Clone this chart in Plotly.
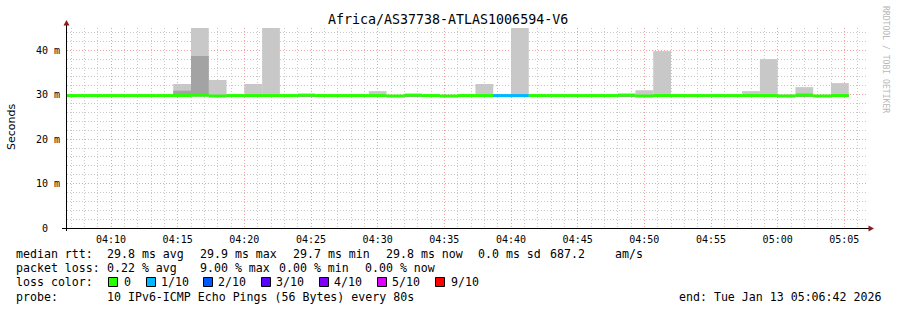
import plotly.graph_objects as go
import pandas as pd

# ---------------- data ----------------
title_text = "Africa/AS37738-ATLAS1006594-V6"
series_start = "2026-01-13 04:06:40"
step_seconds = 80
window = ["2026-01-13 04:06:42", "2026-01-13 05:06:42"]

# median rtt per 80 s step (ms)
median_ms = [29.8, 29.8, 29.8, 29.8, 29.8, 29.8, 29.8, 29.9, 29.7, 29.8,
             29.8, 29.8, 29.8, 29.9, 29.8, 29.8, 29.8, 29.8, 29.7, 29.9,
             29.8, 29.7, 29.8, 29.8, 29.8, 29.8, 29.8, 29.8, 29.8, 29.8,
             29.8, 29.9, 29.7, 29.8, 29.8, 29.8, 29.8, 29.8, 29.8, 29.8,
             29.7, 29.9, 29.7, 29.8]
# smoke: lowest ping, upper inner band, highest ping (ms)
smoke_min = [29.6] * 44
smoke_inner = [29.8, 29.8, 29.8, 29.8, 29.8, 29.8, 30.9, 38.7, 29.7, 29.8,
               29.8, 29.8, 29.8, 29.9, 29.8, 29.8, 29.8, 29.8, 29.7, 29.9,
               29.8, 29.7, 29.8, 29.8, 29.8, 29.8, 29.8, 29.8, 29.8, 29.8,
               29.8, 29.9, 29.7, 29.8, 29.8, 29.8, 29.8, 29.8, 29.8, 29.8,
               29.7, 29.9, 29.7, 29.8]
smoke_max = [29.9, 30.1, 29.9, 29.9, 29.9, 29.9, 32.4, 47.0, 33.3, 29.9,
             32.4, 47.0, 29.9, 30.0, 29.9, 29.9, 29.9, 30.8, 29.9, 29.9,
             29.9, 29.9, 30.1, 32.4, 29.9, 47.0, 29.9, 29.9, 29.9, 29.9,
             29.9, 30.2, 31.0, 39.8, 29.9, 29.9, 29.9, 29.9, 30.8, 38.0,
             30.0, 31.7, 29.9, 32.6]
# lost pings out of 10 per step
loss_count = [0, 0, 0, 0, 0, 0, 0, 0, 0, 0,
              0, 0, 0, 0, 0, 0, 0, 0, 0, 0,
              0, 0, 0, 0, 1, 1, 0, 0, 0, 0,
              0, 0, 0, 0, 0, 0, 0, 0, 0, 0,
              0, 0, 0, 0]

loss_levels = ["0", "1/10", "2/10", "3/10", "4/10", "5/10", "9/10"]
loss_colors = ["#26ff00", "#00b8ff", "#0059ff", "#5e00ff", "#7e00ff", "#dd00ff", "#ff0000"]
loss_color_by_count = {0: "#26ff00", 1: "#00b8ff", 2: "#0059ff", 3: "#5e00ff",
                       4: "#7e00ff", 5: "#dd00ff", 9: "#ff0000"}

y_tick_vals = [0, 10, 20, 30, 40]
y_tick_text = ["0\u00a0\u00a0", "10 m", "20 m", "30 m", "40 m"]

stats_rtt = ["median rtt:", "29.8 ms avg", "29.9 ms max", "29.7 ms min", "29.8 ms now",
             "0.0 ms sd", "687.2", "am/s"]
stats_loss = ["packet loss:", "0.22 % avg", "9.00 % max", "0.00 % min", "0.00 % now"]
probe_text = ["probe:", "10 IPv6-ICMP Echo Pings (56 Bytes) every 80s"]
end_text = "end: Tue Jan 13 05:06:42 2026"

# ---------------- layout geometry ----------------
W, H = 897, 310
ML, MR, MT, MB = 67, 30, 28, 82
PW = W - ML - MR
PH = H - MT - MB
MONO = "DejaVu Sans Mono"


def px(x):
    return (x - ML) / PW


def py(y):
    return (H - MB - y) / PH


n = len(median_ms)
starts = pd.date_range(series_start, periods=n, freq=f"{step_seconds}s")
centers = starts + pd.Timedelta(seconds=step_seconds / 2)
bw = step_seconds * 1000
line_h = 0.675

fig = go.Figure()
fig.add_bar(x=centers, base=smoke_min, y=[b - a for a, b in zip(smoke_min, smoke_max)],
            width=bw, marker=dict(color="#c8c8c8", line=dict(width=0)), hoverinfo="skip")
fig.add_bar(x=centers, base=smoke_min, y=[b - a for a, b in zip(smoke_min, smoke_inner)],
            width=bw, marker=dict(color="#a3a3a3", line=dict(width=0)), hoverinfo="skip")
fig.add_bar(x=centers, base=[m - line_h / 2 for m in median_ms], y=[line_h] * n,
            width=bw, marker=dict(color=[loss_color_by_count[c] for c in loss_count],
                                  line=dict(width=0)), hoverinfo="skip")

grid_minor = "#c9c9c9"
grid_major = "#f0a0a0"
dots = "1px,2px"

fig.update_layout(
    width=W, height=H, margin=dict(l=ML, r=MR, t=MT, b=MB),
    paper_bgcolor="white", plot_bgcolor="white",
    barmode="overlay", showlegend=False,
    font=dict(family=MONO, color="black"),
    xaxis=dict(type="date", range=window, tick0="2026-01-13 04:10:00", dtick=300000,
               tickformat="%H:%M", showgrid=True, gridcolor=grid_major, gridwidth=1,
               griddash=dots, zeroline=False, showline=False, ticks="",
               tickfont=dict(family=MONO, size=10, color="black"), ticklabelstandoff=4,
               minor=dict(tick0="2026-01-13 04:10:00", dtick=60000, showgrid=True,
                          gridcolor=grid_minor, griddash=dots, gridwidth=1)),
    yaxis=dict(range=[0, 45], tickvals=y_tick_vals, ticktext=y_tick_text,
               showgrid=True, gridcolor=grid_major, gridwidth=1, griddash=dots,
               zeroline=False, showline=False, ticks="",
               tickfont=dict(family=MONO, size=10, color="black"), ticklabelstandoff=6,
               minor=dict(tick0=0, dtick=2, showgrid=True, gridcolor=grid_minor,
                          griddash=dots, gridwidth=1)),
)

shapes = []
# axes lines
shapes.append(dict(type="line", xref="paper", yref="paper", x0=px(66.5), x1=px(66.5),
                   y0=py(231), y1=py(23), line=dict(color="black", width=1)))
shapes.append(dict(type="line", xref="paper", yref="paper", x0=px(62), x1=px(870),
                   y0=py(228.5), y1=py(228.5), line=dict(color="black", width=1)))
# arrows
shapes.append(dict(type="path", xref="paper", yref="paper",
                   path=f"M {px(66.5)} {py(20)} L {px(63.5)} {py(25.5)} L {px(69.5)} {py(25.5)} Z",
                   fillcolor="#8b1a1a", line=dict(width=0)))
shapes.append(dict(type="path", xref="paper", yref="paper",
                   path=f"M {px(874)} {py(228.5)} L {px(868.5)} {py(225.5)} L {px(868.5)} {py(231.5)} Z",
                   fillcolor="#8b1a1a", line=dict(width=0)))
# loss color legend boxes
box_x = [108.5, 146.5, 203.5, 261.5, 319.5, 377.5, 435.5]
for bx, col in zip(box_x, loss_colors):
    shapes.append(dict(type="rect", xref="paper", yref="paper", x0=px(bx), x1=px(bx + 9),
                       y0=py(286.5), y1=py(277.5), fillcolor=col,
                       line=dict(color="black", width=1)))
fig.update_layout(shapes=shapes)

ann = []


def add_text(x, y, text, size=11.6, xanchor="left", color="black", family=MONO, angle=0):
    ann.append(dict(xref="paper", yref="paper", x=px(x), y=py(y), text=text,
                    showarrow=False, xanchor=xanchor, yanchor="middle",
                    font=dict(family=family, size=size, color=color),
                    borderpad=0, borderwidth=0, textangle=angle))


add_text(448, 19, title_text, size=13.3, xanchor="center")
add_text(11, 127, "Seconds", size=11, xanchor="center", family="DejaVu Sans", angle=-90)
add_text(886, 59, "RRDTOOL / TOBI OETIKER", size=8.1, xanchor="center", color="#b8b8b8", angle=90)

for x, t in zip([16, 107, 200, 293, 386, 478, 550, 615], stats_rtt):
    add_text(x, 254.3, t)
for x, t in zip([16, 107, 200, 279, 365], stats_loss):
    add_text(x, 268.3, t)
add_text(16, 282.3, "loss color:")
for x, t in zip([124, 161, 218, 276, 334, 392, 451], loss_levels):
    add_text(x, 282.3, t)
for x, t in zip([16, 107], probe_text):
    add_text(x, 296.7, t)
add_text(881, 296.7, end_text, xanchor="right")

fig.update_layout(annotations=ann)

fig.write_html("out.html")
